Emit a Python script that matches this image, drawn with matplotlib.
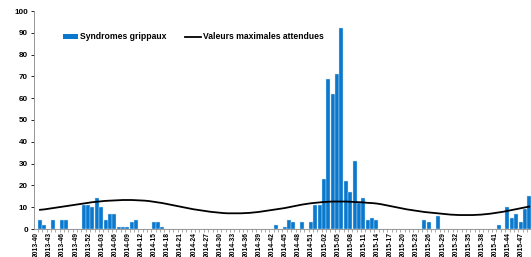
import matplotlib
matplotlib.use("Agg")
from matplotlib import pyplot as plt
from matplotlib.patches import Patch
from matplotlib.lines import Line2D
import matplotlib.transforms as mtransforms

# weeks from 2013-40 to 2015-48
years = [2013] * 13 + [2014] * 52 + [2015] * 48
week_numbers = list(range(40, 53)) + list(range(1, 53)) + list(range(1, 49))
week_labels = ["%d-%02d" % (y, w) for y, w in zip(years, week_numbers)]

syndromes = [
    4, 2, 0, 4, 0, 4, 4, 0, 0, 0,
    11, 11, 10, 14, 10, 4, 7, 7, 1, 1,
    1, 3, 4, 0, 0, 0, 3, 3, 1, 0,
    0, 0, 0, 0, 0, 0, 0, 0, 0, 0,
    0, 0, 0, 0, 0, 0, 0, 0, 0, 0,
    0, 0, 0, 0, 2, 0, 1, 4, 3, 0,
    3, 0, 3, 11, 11, 23, 69, 62, 71, 92,
    22, 17, 31, 12, 14, 4, 5, 4, 0, 0,
    0, 0, 0, 0, 0, 0, 0, 0, 4, 3,
    0, 6, 0, 0, 0, 0, 0, 0, 0, 0,
    0, 0, 0, 0, 0, 2, 0, 10, 5, 7,
    3, 9, 15,
]

valeurs_max = [
    8.8, 9.0, 9.3, 9.6, 9.9, 10.2, 10.5, 10.8, 11.1, 11.4,
    11.7, 12.0, 12.3, 12.5, 12.7, 12.9, 13.0, 13.1, 13.2, 13.3,
    13.3, 13.3, 13.2, 13.1, 13.0, 12.8, 12.5, 12.2, 11.9, 11.5,
    11.1, 10.7, 10.3, 9.9, 9.5, 9.1, 8.8, 8.5, 8.2, 7.9,
    7.7, 7.5, 7.3, 7.2, 7.2, 7.2, 7.2, 7.3, 7.4, 7.6,
    7.8, 8.1, 8.4, 8.7, 9.0, 9.3, 9.6, 10.0, 10.4, 10.8,
    11.2, 11.5, 11.8, 12.0, 12.2, 12.4, 12.5, 12.6, 12.6, 12.6,
    12.6, 12.5, 12.4, 12.3, 12.2, 12.0, 11.9, 11.7, 11.4, 11.0,
    10.6, 10.2, 9.8, 9.4, 9.0, 8.7, 8.4, 8.1, 7.8, 7.6,
    7.4, 7.2, 7.0, 6.8, 6.6, 6.5, 6.4, 6.4, 6.4, 6.4,
    6.5, 6.6, 6.8, 7.0, 7.3, 7.6, 7.9, 8.3, 8.7, 9.1,
    9.5, 9.9, 10.3,
]

label_step = 3
bar_color = "#0a78cc"

plt.rcParams["font.family"] = ["Liberation Sans", "DejaVu Sans"]

fig = plt.figure(figsize=(5.31, 2.57), dpi=100)
ax = fig.add_axes([34 / 531, 1 - 229 / 257, 1 - 34 / 531, (229 - 11) / 257])

x = list(range(len(syndromes)))
ax.bar(x, syndromes, width=0.92, color=bar_color, edgecolor="#cfe3f5", linewidth=0.3, zorder=2)
ax.plot(x, valeurs_max, color="black", linewidth=1.3, zorder=3)

ax.set_xlim(-1.37, 112.4)
ax.set_ylim(0, 100)
ax.set_yticks(range(0, 101, 10))
ax.tick_params(axis="y", labelsize=5.8, length=2.5, width=0.6, pad=2)
for lab in ax.get_yticklabels():
    lab.set_fontweight("bold")

ax.set_xticks(x[::label_step])
ax.set_xticklabels(week_labels[::label_step], rotation=90, fontsize=4.9, fontweight="bold")
ax.set_xticks([i - 0.5 for i in x], minor=True)
ax.tick_params(axis="x", which="major", length=0, pad=2)
ax.tick_params(axis="x", which="minor", length=2, width=0.5, color="#888888")
shift = mtransforms.ScaledTranslation(-3.5 / 100, 0, fig.dpi_scale_trans)
for lab in ax.get_xticklabels():
    lab.set_transform(lab.get_transform() + shift)

for side in ["top", "right"]:
    ax.spines[side].set_visible(False)
ax.spines["left"].set_color("#888888")
ax.spines["bottom"].set_color("#888888")
ax.spines["left"].set_linewidth(0.6)
ax.spines["bottom"].set_linewidth(0.6)

handles = [Patch(facecolor=bar_color, edgecolor="none"),
           Line2D([0], [0], color="black", linewidth=1.3)]
fig.legend(handles, ["Syndromes grippaux", "Valeurs maximales attendues"],
           loc="center left", bbox_to_anchor=(55 / 531, 1 - 37 / 257), ncol=2,
           frameon=False, prop={"size": 6.2, "weight": "bold"},
           handlelength=1.8, handleheight=0.45, handletextpad=0.2, columnspacing=2.2)

fig.savefig("out.png", dpi=100)
